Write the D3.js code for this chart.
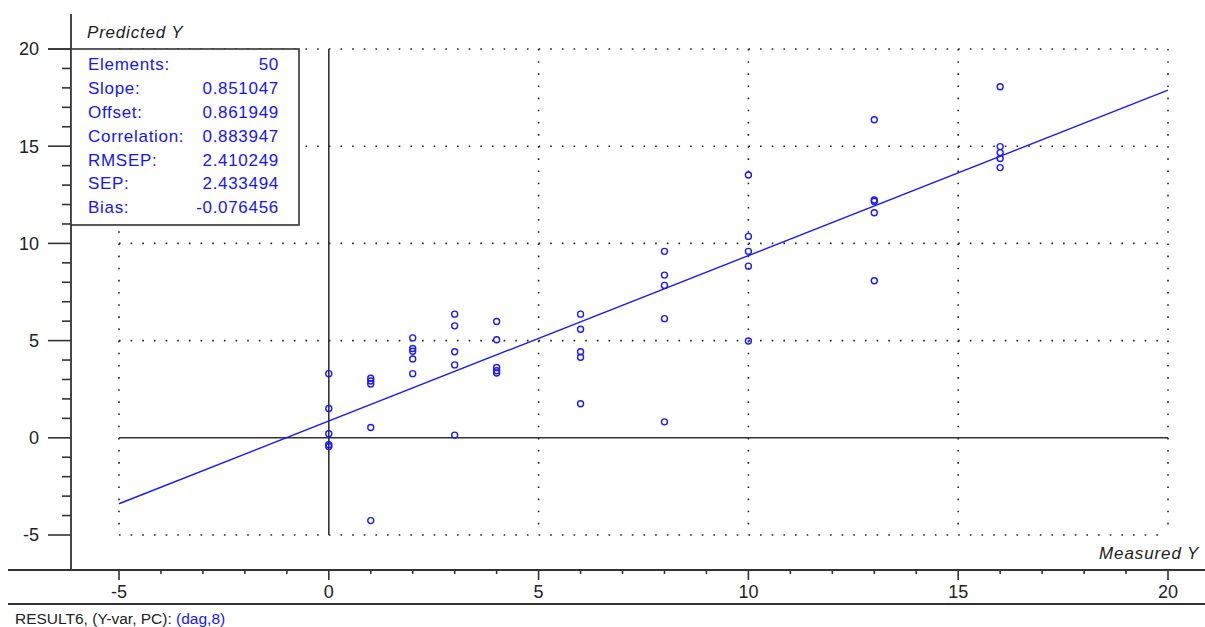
<!DOCTYPE html>
<html>
<head>
<meta charset="utf-8">
<script src="https://cdn.jsdelivr.net/npm/d3@7"></script>
<style>
  html, body { margin: 0; padding: 0; background: #ffffff; }
  svg { display: block; font-family: "Liberation Sans", Arial, sans-serif; }
</style>
</head>
<body>
<svg id="chart" width="1205" height="627"></svg>
<script>
// ---- data ----
const measured = [
  0, 0, 0, 0, 0,
  1, 1, 1, 1, 1,
  2, 2, 2, 2, 2,
  3, 3, 3, 3, 3,
  4, 4, 4, 4, 4,
  6, 6, 6, 6, 6,
  8, 8, 8, 8, 8,
  10, 10, 10, 10, 10,
  13, 13, 13, 13, 13,
  16, 16, 16, 16, 16
];
const predicted = [
  3.30, 1.51, 0.21, -0.36, -0.45,
  3.06, 2.92, 2.77, 0.53, -4.26,
  5.14, 4.59, 4.45, 4.05, 3.30,
  6.36, 5.76, 4.43, 3.75, 0.14,
  5.98, 5.04, 3.62, 3.45, 3.33,
  6.36, 5.58, 4.43, 4.14, 1.75,
  9.59, 8.37, 7.84, 6.13, 0.82,
  13.52, 10.36, 9.59, 8.83, 4.98,
  16.36, 12.23, 12.16, 11.58, 8.08,
  18.06, 14.98, 14.67, 14.37, 13.90
];
const statLabels = ["Elements:", "Slope:", "Offset:", "Correlation:", "RMSEP:", "SEP:", "Bias:"];
const statValues = ["50", "0.851047", "0.861949", "0.883947", "2.410249", "2.433494", "-0.076456"];
const slope = 0.851047;
const offset = 0.861949;
const majorTicks = [-5, 0, 5, 10, 15, 20];
const gridValues = [-5, 5, 10, 15, 20];
const minorTicks = d3.range(-5, 21, 1);
const xTitle = "Measured Y";
const yTitle = "Predicted Y";
const footerBlack = "RESULT6, (Y-var, PC): ";
const footerBlue = "(dag,8)";

// ---- drawing ----
const svg = d3.select("#chart");
const x = d3.scaleLinear().domain([-5, 20]).range([119, 1168]);
const y = d3.scaleLinear().domain([-5, 20]).range([535, 49]);
const blue = "#1a1aff";
const axisCol = "#333";
const W = 1205;
const axisX = 71, axisY = 570;

svg.append("rect").attr("width", W).attr("height", 627).attr("fill", "#ffffff");

// dotted grid
const g = svg.append("g");
g.selectAll("line.hg").data(gridValues).join("line")
  .attr("x1", x(-5)).attr("x2", x(20))
  .attr("y1", d => y(d)).attr("y2", d => y(d))
  .attr("stroke", "#222").attr("stroke-width", 1.6)
  .attr("stroke-dasharray", "1.6," + ((x(20) - x(-5)) / 90 - 1.6));
g.selectAll("line.vg").data(gridValues).join("line")
  .attr("x1", d => x(d)).attr("x2", d => x(d))
  .attr("y1", y(20)).attr("y2", y(-5))
  .attr("stroke", "#222").attr("stroke-width", 1.6)
  .attr("stroke-dasharray", "1.6," + ((y(-5) - y(20)) / 40 - 1.6));

// solid zero lines
g.append("line").attr("x1", x(-5)).attr("x2", x(20)).attr("y1", y(0)).attr("y2", y(0))
  .attr("stroke", axisCol).attr("stroke-width", 1.6);
g.append("line").attr("x1", x(0)).attr("x2", x(0)).attr("y1", y(20)).attr("y2", y(-5))
  .attr("stroke", axisCol).attr("stroke-width", 1.6);

// regression line
g.append("line")
  .attr("x1", x(-5)).attr("y1", y(slope * -5 + offset))
  .attr("x2", x(20)).attr("y2", y(slope * 20 + offset))
  .attr("stroke", blue).attr("stroke-width", 1.4);

// points
g.selectAll("circle").data(measured.map((m, i) => [m, predicted[i]])).join("circle")
  .attr("cx", d => x(d[0])).attr("cy", d => y(d[1])).attr("r", 3)
  .attr("fill", "none").attr("stroke", blue).attr("stroke-width", 1.4);

// y axis
svg.append("line").attr("x1", axisX).attr("x2", axisX).attr("y1", 14).attr("y2", axisY)
  .attr("stroke", axisCol).attr("stroke-width", 1.8);
svg.selectAll("line.ytm").data(minorTicks).join("line")
  .attr("x1", d => majorTicks.includes(d) ? 48 : 62).attr("x2", axisX)
  .attr("y1", d => y(d)).attr("y2", d => y(d))
  .attr("stroke", axisCol).attr("stroke-width", 1.6);
svg.selectAll("text.yl").data(majorTicks).join("text")
  .attr("x", 39).attr("y", d => y(d)).attr("dy", "0.36em")
  .attr("text-anchor", "end").attr("font-size", 18).attr("fill", "#222")
  .text(d => d);

// x axis
svg.append("line").attr("x1", 8).attr("x2", W).attr("y1", axisY).attr("y2", axisY)
  .attr("stroke", axisCol).attr("stroke-width", 1.8);
svg.selectAll("line.xtm").data(minorTicks).join("line")
  .attr("x1", d => x(d)).attr("x2", d => x(d))
  .attr("y1", axisY).attr("y2", d => majorTicks.includes(d) ? axisY + 10 : axisY + 4)
  .attr("stroke", axisCol).attr("stroke-width", 1.6);
svg.selectAll("text.xl").data(majorTicks).join("text")
  .attr("x", d => x(d)).attr("y", 592).attr("dy", "0.36em")
  .attr("text-anchor", "middle").attr("font-size", 18).attr("fill", "#222")
  .text(d => d);
svg.append("line").attr("x1", 8).attr("x2", W).attr("y1", 604).attr("y2", 604)
  .attr("stroke", axisCol).attr("stroke-width", 1.8);

// axis titles
svg.append("text").attr("x", 87).attr("y", 32).attr("dy", "0.36em")
  .attr("font-size", 17).attr("font-style", "italic").attr("letter-spacing", 0.8)
  .attr("fill", "#222").text(yTitle);
svg.append("text").attr("x", 1099).attr("y", 553).attr("dy", "0.36em")
  .attr("font-size", 17).attr("font-style", "italic").attr("letter-spacing", 0.9)
  .attr("fill", "#222").text(xTitle);

// stats box
svg.append("rect").attr("x", axisX).attr("y", 49).attr("width", 299 - axisX).attr("height", 225 - 49)
  .attr("fill", "#ffffff").attr("stroke", axisCol).attr("stroke-width", 1.6);
svg.append("line").attr("x1", 48).attr("x2", axisX).attr("y1", y(20)).attr("y2", y(20))
  .attr("stroke", axisCol).attr("stroke-width", 1.6);
const rowY = i => 64.3 + i * 23.8;
svg.selectAll("text.sl").data(statLabels).join("text")
  .attr("x", 88).attr("y", (d, i) => rowY(i)).attr("dy", "0.36em")
  .attr("font-size", 17).attr("letter-spacing", 0.7).attr("fill", "#1414ff")
  .text(d => d);
svg.selectAll("text.sv").data(statValues).join("text")
  .attr("x", 279).attr("y", (d, i) => rowY(i)).attr("dy", "0.36em")
  .attr("text-anchor", "end").attr("font-size", 17).attr("letter-spacing", 0.7).attr("fill", "#1414ff")
  .text(d => d);

// footer
const ft = svg.append("text").attr("x", 15).attr("y", 618).attr("dy", "0.36em")
  .attr("font-size", 15.5).attr("fill", "#222");
ft.append("tspan").text(footerBlack);
ft.append("tspan").attr("fill", "#1414ff").text(footerBlue);
</script>
</body>
</html>
